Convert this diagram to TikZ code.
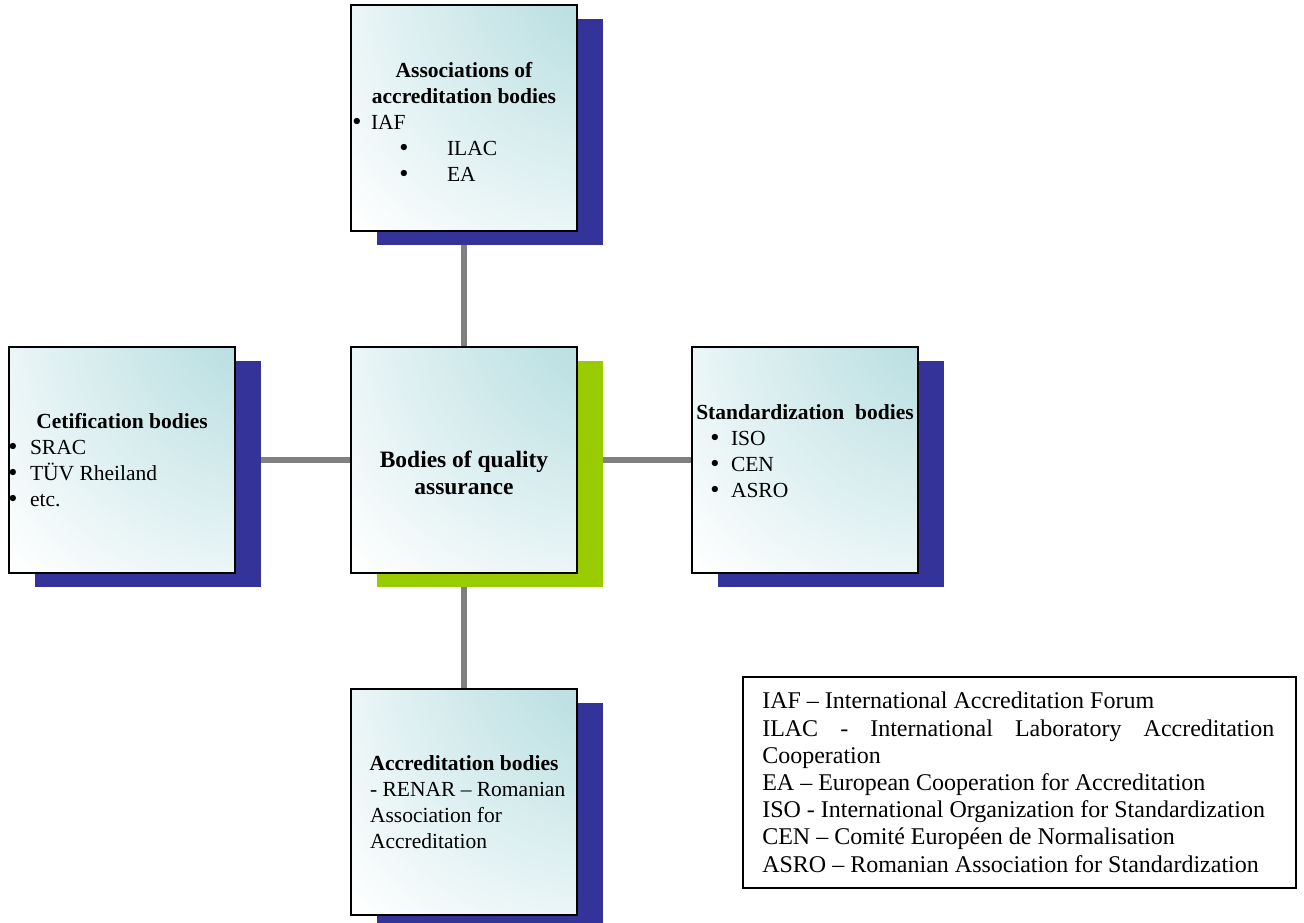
\documentclass[tikz,border=0pt]{standalone}
\usepackage{fontspec}
\setmainfont{Liberation Serif}
\newfontfamily\dotfont{DejaVu Sans}
\usetikzlibrary{positioning,shadows,backgrounds}
\setlength{\parindent}{0pt}
\hyphenpenalty=10000
\exhyphenpenalty=10000
\definecolor{glow}{RGB}{182,221,224}
\definecolor{navyshadow}{RGB}{51,51,153}
\definecolor{limeshadow}{RGB}{153,204,0}
\definecolor{linkgray}{RGB}{128,128,128}
\pgfdeclareradialshading[glow]{cornerglow}{\pgfpoint{42bp}{42bp}}{color(0bp)=(glow); color(14bp)=(glow); color(67bp)=(white); color(150bp)=(white)}
\newcommand{\itm}[3]{\makebox[#2pt][l]{\hspace*{#1pt}\makebox[0pt]{\dotfont •}}#3}
\newcommand{\head}[1]{{\centering\bfseries #1\par}}
\tikzset{
    body/.style={draw, line width=2pt, shade, shading=cornerglow, minimum width=226pt, minimum height=226pt,
        text width=226pt, inner xsep=0pt, inner ysep=0pt, align=left, font=\fontsize{21.5}{26}\selectfont,
        execute at begin node={\spaceskip=0pt\xspaceskip=0pt}},
    navy/.style={drop shadow={shadow xshift=26pt, shadow yshift=-14pt, fill=navyshadow, opacity=1}},
    lime/.style={drop shadow={shadow xshift=26pt, shadow yshift=-14pt, fill=limeshadow, opacity=1}},
    link/.style={draw=linkgray, line width=6pt},
    legendbox/.style={draw, line width=1.5pt, fill=white, anchor=north west, text width=514pt, inner xsep=19.5pt,
        inner ysep=0pt, minimum height=211pt, align=left, font=\fontsize{24}{27.2}\selectfont,
        execute at begin node={\spaceskip=0pt\xspaceskip=0pt}}
}
\begin{document}
\begin{tikzpicture}[x=1pt, y=1pt]
    \useasboundingbox (0,0) rectangle (1304,-923);
    \node[body, lime] (quality) at (464,-460) {{\fontsize{23.5}{27}\selectfont\head{\mbox{}\\[15pt]Bodies of quality\\assurance}}};
    \node[body, navy, above=114pt of quality] (assoc) {\head{\mbox{}\\[-3.5pt]Associations of\\accreditation bodies}
        \itm{6}{20}{IAF}\\
        \itm{53}{96}{ILAC}\\
        \itm{53}{96}{EA}};
    \node[body, navy, left=114pt of quality] (cert) {\head{Cetification bodies}
        \itm{4}{21}{SRAC}\\
        \itm{4}{21}{TÜV Rheiland}\\
        \itm{4}{21}{etc.}};
    \node[body, navy, right=113pt of quality] (stand) {\head{Standardization\ \ bodies}
        \itm{23}{39}{ISO}\\
        \itm{23}{39}{CEN}\\
        \itm{23}{39}{ASRO}\\[-9pt]\mbox{}};
    \node[body, navy, below=114pt of quality] (accred) {\head{Accreditation bodies}
        {\leftskip=19pt - RENAR -- Romanian\\Association for\\Accreditation\par}};
    \begin{pgfonlayer}{background}
        \foreach \n in {assoc, cert, stand, accred}
            \draw[link] (quality) -- (\n);
    \end{pgfonlayer}
    \node[legendbox] (legend) at (742,-676) {IAF -- International Accreditation Forum\\
        \makebox[512pt][s]{ILAC - International Laboratory Accreditation}\\
        Cooperation\\
        EA -- European Cooperation for Accreditation\\
        ISO - International Organization for Standardization\\
        CEN -- Comité Européen de Normalisation\\
        ASRO -- Romanian Association for Standardization};
\end{tikzpicture}
\end{document}
